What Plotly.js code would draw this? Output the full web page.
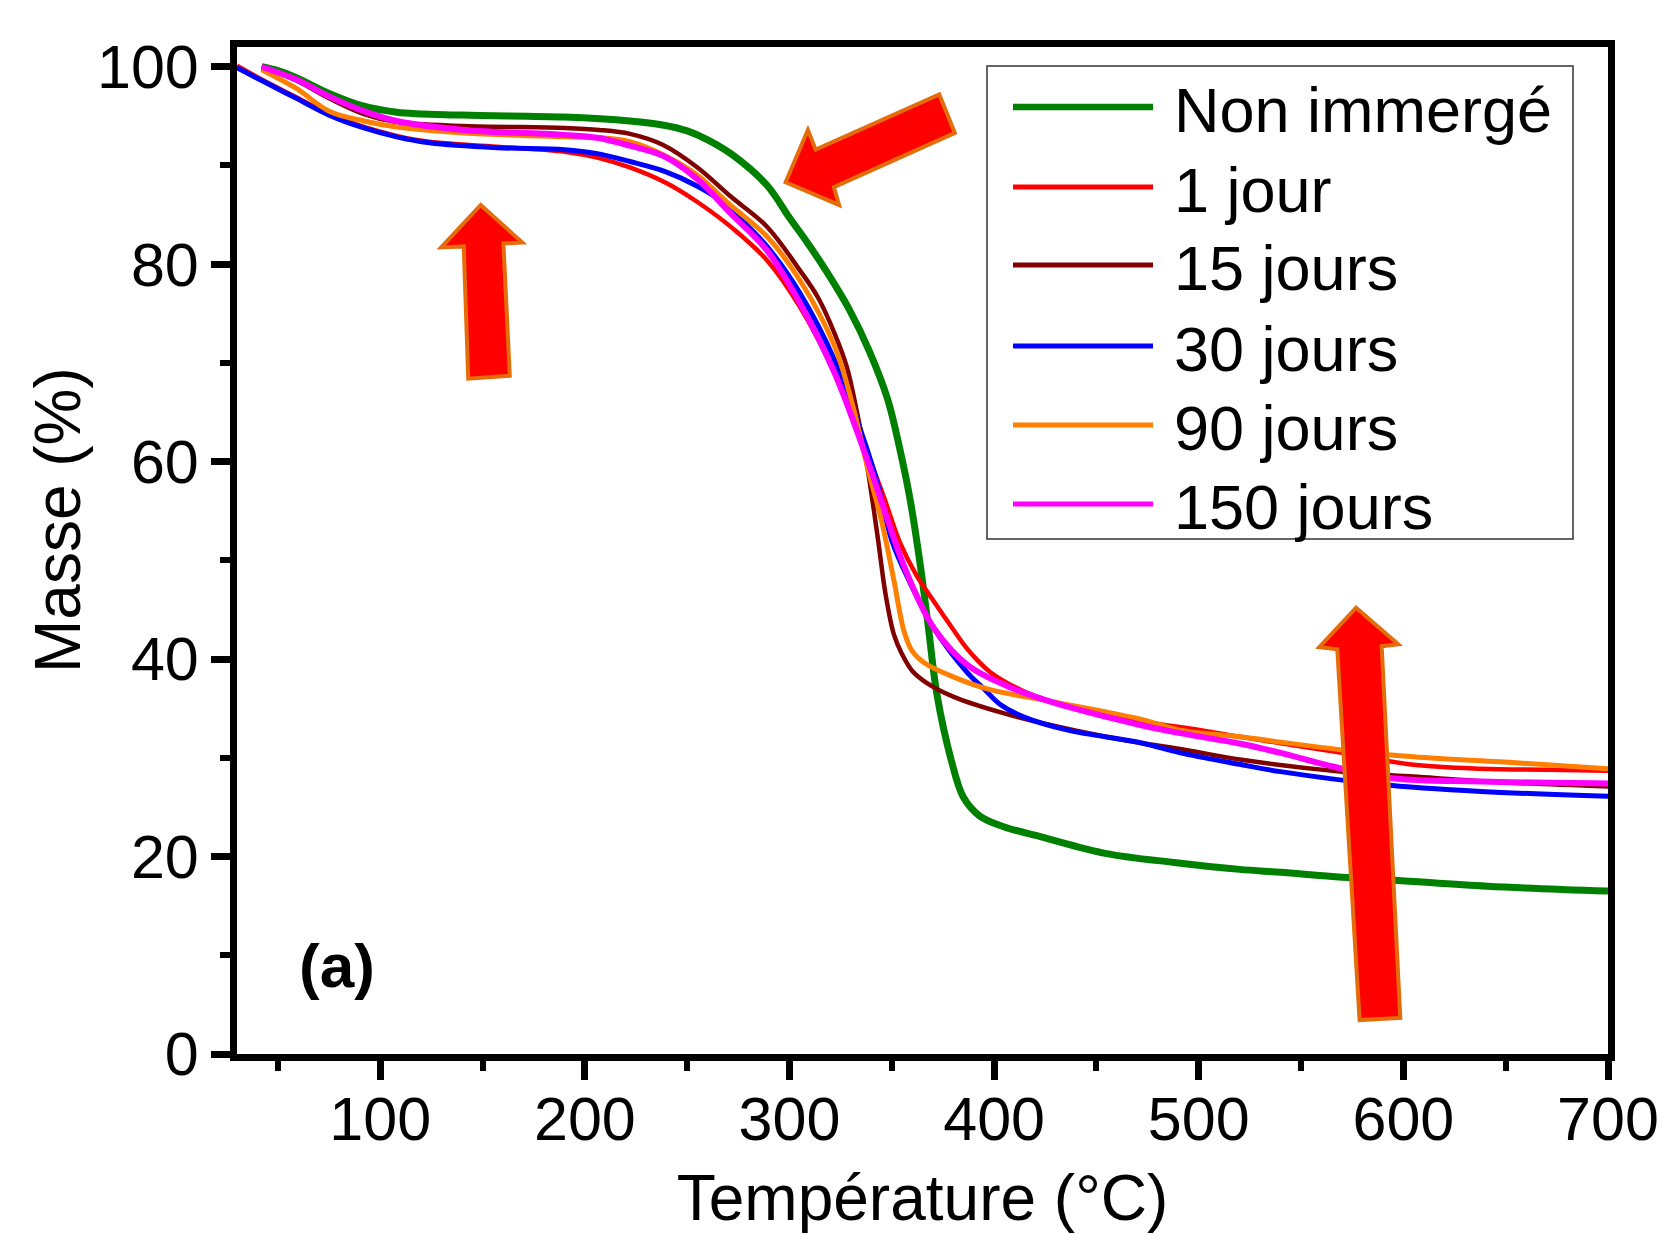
<!DOCTYPE html>
<html>
<head>
<meta charset="utf-8">
<script src="https://cdn.plot.ly/plotly-3.0.1.min.js"></script>
<style>
html,body{margin:0;padding:0;background:#ffffff;}
#chart{width:1664px;height:1234px;}
</style>
</head>
<body>
<div id="chart"></div>
<script>
// ---------- DATA ----------
const seriesNames = ["Non immergé", "1 jour", "15 jours", "30 jours", "90 jours", "150 jours"];
const xTitle = "Température (°C)";
const yTitle = "Masse (%)";
const panelLabel = "(a)";

const tempNon = [42, 50, 59, 75, 92, 108, 140, 190, 222, 238, 250, 260, 272, 289, 300, 309, 318, 329, 339, 348, 354, 359, 364, 368, 372, 379, 385, 393, 405, 423, 455, 488, 520, 540, 570, 596, 641, 700];
const massNon = [100, 99.6, 98.9, 97.3, 96.0, 95.4, 95.1, 94.9, 94.5, 94.1, 93.5, 92.6, 91.1, 88.0, 84.7, 82.1, 79.3, 75.5, 71.2, 66.3, 61.2, 56.1, 49.4, 43.0, 36.5, 29.8, 26.0, 24.1, 23.0, 22.0, 20.3, 19.4, 18.7, 18.4, 17.9, 17.6, 17.0, 16.5];

const temp1j = [30, 43, 59, 75, 92, 108, 124, 157, 190, 206, 222, 240, 255, 273, 289, 305, 322, 338, 346, 354, 362, 370, 380, 387, 398, 415, 436, 472, 501, 521, 570, 605, 638, 670, 700];
const mass1j = [100.1, 98.6, 96.9, 95.2, 93.9, 93.0, 92.4, 91.9, 91.4, 90.8, 89.8, 88.2, 86.3, 83.5, 80.4, 75.7, 69.0, 60.9, 56.5, 51.8, 48.5, 46.0, 43.0, 41.0, 38.7, 36.7, 35.2, 33.7, 32.8, 32.1, 30.5, 29.3, 28.9, 28.8, 28.7];

const temp15j = [42, 59, 75, 92, 108, 141, 190, 207, 222, 238, 255, 271, 289, 305, 314, 322, 328, 333, 338, 343, 347, 351, 355, 360, 367, 380, 405, 439, 472, 491, 521, 570, 605, 650, 700];
const mass15j = [100, 98.6, 96.8, 95.2, 94.4, 94.0, 93.8, 93.6, 93.2, 92.1, 89.8, 86.9, 83.8, 79.4, 76.6, 73.0, 69.6, 65.0, 59.5, 52.5, 46.5, 42.5, 40.5, 38.8, 37.6, 36.2, 34.5, 32.8, 31.5, 30.9, 29.8, 28.6, 28.1, 27.5, 27.1];

const temp30j = [30, 43, 59, 75, 92, 108, 124, 157, 190, 206, 222, 239, 255, 268, 273, 289, 305, 322, 338, 343, 350, 359, 370, 387, 395, 403, 415, 436, 472, 491, 521, 540, 589, 638, 700];
const mass30j = [99.9, 98.5, 96.8, 95.1, 93.8, 92.9, 92.3, 91.8, 91.6, 91.2, 90.4, 89.4, 87.9, 86.2, 85.2, 81.8, 77.1, 70.3, 61.2, 57.8, 52.0, 47.7, 43.3, 38.6, 37.0, 35.4, 34.1, 32.8, 31.5, 30.5, 29.3, 28.6, 27.3, 26.6, 26.1];

const temp90j = [42, 59, 75, 92, 108, 141, 190, 208, 222, 240, 255, 271, 289, 305, 322, 331, 338, 345, 351, 356, 360, 366, 380, 398, 423, 472, 491, 521, 570, 605, 655, 700];
const mass90j = [99.7, 97.8, 95.5, 94.5, 93.9, 93.3, 92.9, 92.8, 92.4, 90.9, 89.0, 86.0, 82.8, 78.4, 71.7, 65.6, 59.5, 54.0, 48.0, 42.8, 40.8, 39.6, 38.2, 36.9, 35.9, 33.9, 32.8, 32.1, 30.8, 30.1, 29.5, 28.9];

const temp150j = [42, 59, 75, 92, 108, 141, 190, 206, 222, 239, 255, 271, 289, 305, 322, 338, 354, 362, 371, 387, 406, 420, 439, 472, 491, 521, 540, 566, 596, 638, 700];
const mass150j = [100, 98.7, 97.0, 95.5, 94.5, 93.6, 93.1, 92.8, 92.0, 90.9, 88.6, 85.2, 81.4, 76.1, 69.0, 60.2, 50.5, 46.5, 43.0, 39.4, 37.3, 36.2, 35.0, 33.3, 32.5, 31.4, 30.5, 29.1, 27.9, 27.6, 27.4];

const xTickVals = [100, 200, 300, 400, 500, 600, 700];
const xMinorVals = [50, 150, 250, 350, 450, 550, 650];
const yTickVals = [0, 20, 40, 60, 80, 100];
const yMinorVals = [10, 30, 50, 70, 90];

// ---------- STYLE ----------
const seriesColors = ["#008000", "#FF0000", "#800000", "#0000FF", "#FF8000", "#FF00FF"];
const seriesWidths = [7, 4.5, 4.5, 5, 5, 6];
const FONT = "Liberation Sans, Arial, Helvetica, sans-serif";

const xs = [tempNon, temp1j, temp15j, temp30j, temp90j, temp150j];
const ys = [massNon, mass1j, mass15j, mass30j, mass90j, mass150j];

const traces = seriesNames.map((name, i) => ({
  type: "scatter",
  mode: "lines",
  name: name,
  x: xs[i],
  y: ys[i],
  line: {color: seriesColors[i], width: seriesWidths[i], shape: "spline", smoothing: 1.0},
  showlegend: false,
  hoverinfo: "skip"
}));

// ---------- LAYOUT ----------
const L = 237, R = 1608, T = 47, B = 1054, W = 1664, H = 1234;
const pw = R - L, ph = B - T;
const px = X => (X - L) / pw;
const py = Y => (B - Y) / ph;

const shapes = [];
const annotations = [];

// Legend box (custom, to match the long sample lines of the original)
shapes.push({type: "rect", xref: "paper", yref: "paper",
  x0: px(987), x1: px(1573), y0: py(539), y1: py(66),
  line: {color: "#333333", width: 1.5}, fillcolor: "rgba(255,255,255,1)", layer: "above"});
const legendRowY = [107, 187, 265, 346, 425, 504];
const legendLineW = [6.5, 5, 5, 5, 5, 5];
seriesNames.forEach((name, i) => {
  shapes.push({type: "line", xref: "paper", yref: "paper",
    x0: px(1013), x1: px(1153), y0: py(legendRowY[i]), y1: py(legendRowY[i]),
    line: {color: seriesColors[i], width: legendLineW[i]}, layer: "above"});
  annotations.push({xref: "paper", yref: "paper", x: px(1172), y: py(legendRowY[i] + 3),
    xanchor: "left", yanchor: "middle", showarrow: false, text: name,
    font: {family: FONT, size: 63, color: "#000000"}});
});

// Red block arrows (decorations, in axis units)
const arrowStyle = {fillcolor: "#FF0000", line: {color: "#E46C0A", width: 4}};
const arrowPaths = [
  [[149.1, 86.0], [169.4, 82.2], [160.2, 82.1], [163.3, 68.7], [143.0, 68.4], [140.8, 81.8], [129.8, 81.7]],
  [[298.1, 88.3], [309.0, 93.6], [312.8, 91.6], [373.2, 97.2], [380.8, 93.3], [321.7, 87.8], [324.2, 86.0]],
  [[576.9, 45.2], [597.5, 41.5], [589.4, 41.3], [598.5, 3.65], [578.6, 3.44], [567.7, 41.0], [558.9, 41.2]]
];
arrowPaths.forEach(pts => {
  const d = "M" + pts.map(p => p[0] + "," + p[1]).join(" L") + " Z";
  shapes.push(Object.assign({type: "path", xref: "x", yref: "y", path: d, layer: "above"}, arrowStyle));
});

annotations.push({xref: "x", yref: "y", x: 79, y: 9, showarrow: false,
  text: "<b>" + panelLabel + "</b>", font: {family: FONT, size: 62, color: "#000000"}});

// Y axis title placed as rotated text (the original sits slightly above the plot centre)
annotations.push({xref: "paper", yref: "paper", x: px(58), y: py(520), textangle: -90,
  xanchor: "center", yanchor: "middle", showarrow: false, text: yTitle,
  font: {family: FONT, size: 64, color: "#000000"}});

const axisCommon = {
  showline: true, linewidth: 7, linecolor: "#000000", mirror: true,
  ticks: "outside", ticklen: 19, tickwidth: 7, tickcolor: "#000000",
  showgrid: false, zeroline: false, automargin: false,
  tickfont: {family: FONT, size: 61, color: "#000000"}
};

const layout = {
  width: W, height: H,
  paper_bgcolor: "#ffffff", plot_bgcolor: "#ffffff",
  margin: {l: L, r: W - R, t: T, b: H - B, pad: 0},
  showlegend: false,
  font: {family: FONT, color: "#000000"},
  xaxis: Object.assign({}, axisCommon, {
    range: [30, 700], tickmode: "array", tickvals: xTickVals,
    ticklabelstandoff: -13,
    minor: {tickmode: "array", tickvals: xMinorVals, ticks: "outside", ticklen: 10, tickwidth: 6, tickcolor: "#000000"},
    title: {text: xTitle, font: {family: FONT, size: 64, color: "#000000"}, standoff: 54}
  }),
  yaxis: Object.assign({}, axisCommon, {
    range: [0, 102], tickmode: "array", tickvals: yTickVals,
    minor: {tickmode: "array", tickvals: yMinorVals, ticks: "outside", ticklen: 10, tickwidth: 6, tickcolor: "#000000"},
    title: {text: ""}
  }),
  shapes: shapes,
  annotations: annotations
};

Plotly.newPlot("chart", traces, layout, {displayModeBar: false, staticPlot: true});
</script>
</body>
</html>
